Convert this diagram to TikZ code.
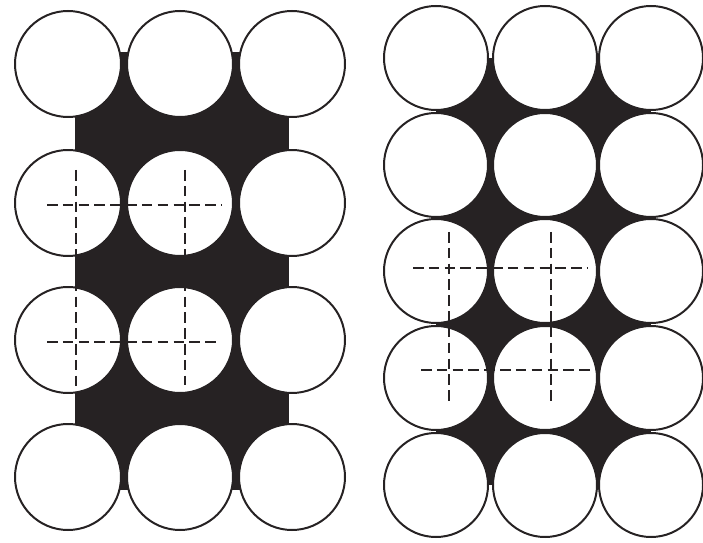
\documentclass[tikz,border=0pt]{standalone}
\usetikzlibrary{calc}
\definecolor{tinta}{HTML}{262223}

\begin{document}
\begin{tikzpicture}[x=0.03cm, y=-0.03cm, line width=1.7pt,
    grano/.style={draw=tinta, fill=white},
    eje/.style={tinta, line width=1.8pt, dash pattern=on 9pt off 4.5pt}]
  \useasboundingbox (0,0) rectangle (703,543);
  % empaquetamiento rectangular
  \fill[tinta] (75,52) rectangle (289,490);
  \foreach \cy in {64,203,340,477}
    \foreach \cx in {68,180,292}
      \draw[grano] (\cx,\cy) circle (53);
  \draw[eje] (47,205) -- (222,205);
  \draw[eje] (47,342) -- (218,342);
  \draw[eje] (76,170) -- (76,390);
  \draw[eje] (185,170) -- (185,385);
  % empaquetamiento cuadrado
  \fill[tinta] (436,58) rectangle (651,485);
  \foreach \cy in {58,165,271,378,485}
    \foreach \cx in {436,545,651}
      \draw[grano] (\cx,\cy) circle (52);
  \draw[eje] (413,268) -- (588,268);
  \draw[eje] (421,370) -- (590,370);
  \draw[eje] (449,232) -- (449,403);
  \draw[eje] (551,232) -- (551,403);
\end{tikzpicture}
\end{document}
